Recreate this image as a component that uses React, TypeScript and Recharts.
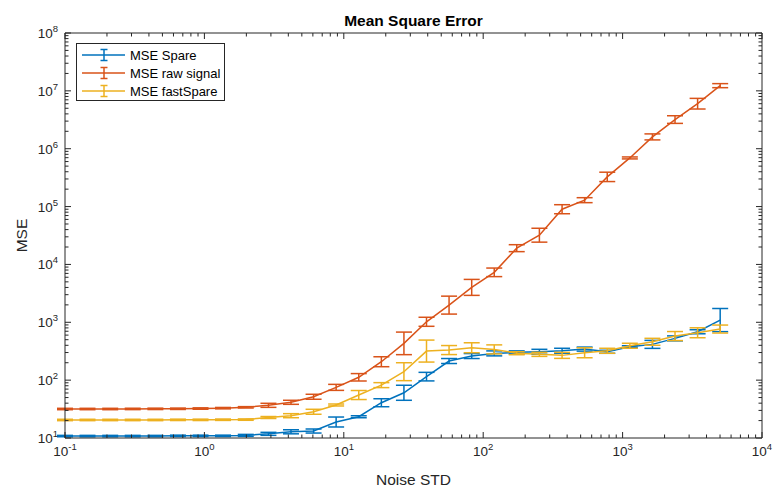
import { ErrorBar, Legend, Line, LineChart, XAxis, YAxis } from "recharts";

// noise standard deviation (x positions of the measurements)
const noiseStd = [
  0.1, 0.145, 0.211, 0.306, 0.445, 0.646, 0.938, 1.36, 1.98, 2.88, 4.18, 6.07, 8.81, 12.8, 18.6,
  27.0, 39.2, 56.9, 82.7, 120, 174, 253, 368, 534, 776, 1127, 1637, 2377, 3452, 5012,
];

// mean values
const mseSpare = [
  10.8, 10.8, 10.8, 10.8, 10.8, 10.9, 10.9, 10.9, 11.1, 11.8, 12.8, 13.2, 18.9, 23.3, 40.7,
  60.5, 115, 214, 261, 290, 302, 309, 322, 344, 309, 378, 415, 527, 686, 1092,
];
const mseRaw = [
  31.7, 31.7, 31.7, 31.8, 31.9, 32.0, 32.3, 32.8, 33.9, 36.7, 41.4, 51.6, 75, 112, 208,
  432, 1020, 1980, 4010, 7300, 19100, 32000, 90000, 129000, 326000, 693000, 1600000, 3190000,
  6000000, 12300000,
];
const mseFast = [
  20.5, 20.5, 20.5, 20.5, 20.5, 20.6, 20.6, 20.7, 20.8, 22.6, 24.3, 28.4, 37.2, 55.3, 82,
  140, 318, 331, 363, 340, 292, 279, 268, 297, 322, 393, 460, 578, 659, 764,
];

// error bar half-heights, in decades
const errSpare = [
  0.012, 0.012, 0.012, 0.012, 0.012, 0.012, 0.012, 0.012, 0.017, 0.026, 0.035, 0.035, 0.086,
  0.017, 0.069, 0.13, 0.074, 0.043, 0.043, 0.043, 0.026, 0.043, 0.043, 0.035, 0.026, 0.017,
  0.069, 0.043, 0.035, 0.2,
];
const errRaw = [
  0.012, 0.012, 0.012, 0.012, 0.012, 0.012, 0.012, 0.012, 0.012, 0.035, 0.035, 0.043, 0.052,
  0.064, 0.086, 0.195, 0.078, 0.155, 0.138, 0.074, 0.06, 0.12, 0.078, 0.043, 0.081, 0.017,
  0.052, 0.066, 0.092, 0.035,
];
const errFast = [
  0.012, 0.012, 0.012, 0.012, 0.012, 0.012, 0.012, 0.012, 0.012, 0.017, 0.035, 0.043, 0.017,
  0.078, 0.043, 0.155, 0.19, 0.078, 0.086, 0.078, 0.026, 0.035, 0.052, 0.086, 0.043, 0.043,
  0.06, 0.078, 0.086, 0.069,
];

const xDecades = [0.1, 1, 10, 100, 1000, 10000];
const yDecades = [10, 100, 1000, 10000, 100000, 1000000, 10000000, 100000000];

const BLUE = "#0072BD";
const RED = "#D95319";
const YELLOW = "#EDB120";
const AXIS = "#262626";
const FONT = "'Liberation Sans', Arial, Helvetica, sans-serif";

const series = [
  { key: "spare", name: "MSE Spare", color: BLUE },
  { key: "raw", name: "MSE raw signal", color: RED },
  { key: "fast", name: "MSE fastSpare", color: YELLOW },
];

const bounds = (v: number, d: number) => [v - v * Math.pow(10, -d), v * Math.pow(10, d) - v];

const data = noiseStd.map((x, i) => ({
  x,
  spare: mseSpare[i],
  raw: mseRaw[i],
  fast: mseFast[i],
  spareErr: bounds(mseSpare[i], errSpare[i]),
  rawErr: bounds(mseRaw[i], errRaw[i]),
  fastErr: bounds(mseFast[i], errFast[i]),
}));

// major + minor ticks for a log axis
const logTicks = (decades: number[]) => {
  const out: number[] = [];
  decades.forEach((d, i) => {
    out.push(d);
    if (i < decades.length - 1) for (let m = 2; m <= 9; m++) out.push(d * m);
  });
  return out;
};
const xTicks = logTicks(xDecades);
const yTicks = logTicks(yDecades);

function renderTick(props: any, side: string) {
  const { x, y, payload } = props;
  const lg = Math.log10(payload.value);
  const exp = Math.round(lg);
  const major = Math.abs(lg - exp) < 1e-6;
  const len = major ? 6 : 3.5;
  let x2 = x;
  let y2 = y;
  if (side === "bottom") y2 = y - len;
  if (side === "top") y2 = y + len;
  if (side === "left") x2 = x + len;
  if (side === "right") x2 = x - len;

  let label = null;
  if (major && (side === "bottom" || side === "left")) {
    const lx = side === "bottom" ? x : x - 7;
    const ly = side === "bottom" ? y + 18 : y + 5;
    label = (
      <text
        x={lx}
        y={ly}
        textAnchor={side === "bottom" ? "middle" : "end"}
        fill={AXIS}
        fontSize={13.5}
        fontFamily={FONT}>
        10
        <tspan dy={-6} fontSize={9.5}>
          {exp}
        </tspan>
      </text>
    );
  }
  return (
    <g>
      <line x1={x} y1={y} x2={x2} y2={y2} stroke={AXIS} strokeWidth={1} />
      {label}
    </g>
  );
}

function LegendBox() {
  return (
    <div
      style={{
        boxSizing: "border-box",
        width: 149,
        height: 58,
        border: `1px solid ${AXIS}`,
        background: "#fff",
        paddingTop: 2,
        fontFamily: FONT,
        fontSize: 13,
        color: "#000",
      }}>
      {series.map((s) => (
        <div key={s.key} style={{ display: "flex", alignItems: "center", height: 18 }}>
          <svg width={53} height={18}>
            <line x1={5} y1={9} x2={48} y2={9} stroke={s.color} strokeWidth={1.5} />
            <line x1={27} y1={3.5} x2={27} y2={14.5} stroke={s.color} strokeWidth={1.5} />
            <line x1={23.5} y1={3.5} x2={30.5} y2={3.5} stroke={s.color} strokeWidth={1.5} />
            <line x1={23.5} y1={14.5} x2={30.5} y2={14.5} stroke={s.color} strokeWidth={1.5} />
          </svg>
          <span style={{ whiteSpace: "nowrap" }}>{s.name}</span>
        </div>
      ))}
    </div>
  );
}

export default function App() {
  const axisCommon = {
    type: "number" as const,
    scale: "log" as const,
    allowDataOverflow: true,
    interval: 0 as const,
    tickSize: 0,
    tickMargin: 0,
    axisLine: { stroke: AXIS, strokeWidth: 1 },
    tickLine: false,
  };

  return (
    <div style={{ position: "absolute", left: 0, top: 0, background: "#fff" }}>
      <LineChart
        width={773}
        height={489}
        data={data}
        margin={{ top: 32, right: 10, bottom: 50, left: 64 }}>
        <XAxis
          {...axisCommon}
          dataKey="x"
          xAxisId="bottom"
          orientation="bottom"
          domain={[0.1, 10000]}
          ticks={xTicks}
          height={1}
          tick={(p: any) => renderTick(p, "bottom")}
        />
        <XAxis
          {...axisCommon}
          dataKey="x"
          xAxisId="top"
          orientation="top"
          domain={[0.1, 10000]}
          ticks={xTicks}
          height={1}
          tick={(p: any) => renderTick(p, "top")}
        />
        <YAxis
          {...axisCommon}
          yAxisId="left"
          orientation="left"
          domain={[10, 100000000]}
          ticks={yTicks}
          width={1}
          tick={(p: any) => renderTick(p, "left")}
        />
        <YAxis
          {...axisCommon}
          yAxisId="right"
          orientation="right"
          domain={[10, 100000000]}
          ticks={yTicks}
          width={1}
          tick={(p: any) => renderTick(p, "right")}
        />
        {series.map((s) => (
          <Line
            key={s.key}
            xAxisId="bottom"
            yAxisId="left"
            dataKey={s.key}
            name={s.name}
            stroke={s.color}
            strokeWidth={1.5}
            dot={false}
            activeDot={false}
            isAnimationActive={false}>
            <ErrorBar
              dataKey={`${s.key}Err`}
              direction="y"
              width={8}
              stroke={s.color}
              strokeWidth={1.5}
              isAnimationActive={false}
            />
          </Line>
        ))}
        <Legend
          layout="horizontal"
          verticalAlign="middle"
          align="center"
          wrapperStyle={{ left: 76, top: 43, width: 149, height: 58 }}
          content={() => <LegendBox />}
        />
        <text
          x={413.5}
          y={26}
          textAnchor="middle"
          fontFamily={FONT}
          fontWeight="bold"
          fontSize={15.5}
          fill="#000">
          Mean Square Error
        </text>
        <text
          x={413.5}
          y={485}
          textAnchor="middle"
          fontFamily={FONT}
          fontSize={15.5}
          fill={AXIS}>
          Noise STD
        </text>
        <text
          x={27}
          y={235.5}
          textAnchor="middle"
          transform="rotate(-90 27 235.5)"
          fontFamily={FONT}
          fontSize={15.5}
          fill={AXIS}>
          MSE
        </text>
      </LineChart>
    </div>
  );
}
